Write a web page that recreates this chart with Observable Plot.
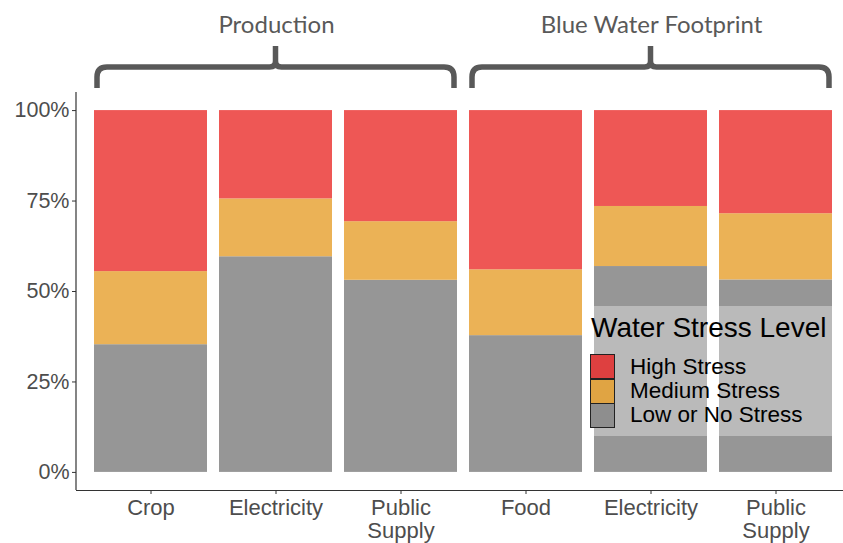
<!DOCTYPE html>
<html>
<head>
<meta charset="utf-8">
<script src="https://cdn.jsdelivr.net/npm/d3@7"></script>
<script src="https://cdn.jsdelivr.net/npm/@observablehq/plot@0.6"></script>
<style>
  html, body { margin: 0; padding: 0; background: white; }
  #wrap { position: relative; width: 843px; height: 543px; overflow: hidden; }
  #legend { position: absolute; left: 592px; top: 306px; width: 240px; height: 130px;
            background: rgba(255,255,255,0.35); font-family: "Liberation Sans", Arial, sans-serif; color: #000; }
  #legend .title { position: absolute; left: -1px; top: 8px; font-size: 28px; line-height: 28px; white-space: nowrap; }
  #legend .sw { position: absolute; left: -2px; width: 23px; height: 23px; border: 1px solid #222; }
  #legend .lab { position: absolute; left: 38px; font-size: 22.5px; line-height: 22px; white-space: nowrap; }
</style>
</head>
<body>
<div id="wrap"></div>
<script>
// ---- data ----
const groups = ["Production", "Production", "Production", "Blue Water Footprint", "Blue Water Footprint", "Blue Water Footprint"];
const categories = ["Crop", "Electricity", "Public Supply", "Food", "Electricity", "Public Supply"];
const lowStress = [35.3, 59.6, 53.1, 37.8, 56.9, 53.2];
const mediumStress = [20.2, 16.0, 16.2, 18.2, 16.6, 18.3];
const highStress = [44.5, 24.4, 30.7, 44.0, 26.5, 28.5];
const levels = ["High Stress", "Medium Stress", "Low or No Stress"];
const barColors = ["#EE5755", "#EBB256", "#969696"];
const swatchColors = ["#DE4040", "#E0A443", "#8E8E8E"];
const yTicks = [0, 25, 50, 75, 100];
const groupNames = ["Production", "Blue Water Footprint"];

const FONT = "'Liberation Sans', Arial, sans-serif";

// ---- build table ----
const keys = categories.map((c, i) => `${groups[i]}|${c}`);
const rows = [];
keys.forEach((k, i) => {
  rows.push({key: k, level: "Low or No Stress", value: lowStress[i]});
  rows.push({key: k, level: "Medium Stress", value: mediumStress[i]});
  rows.push({key: k, level: "High Stress", value: highStress[i]});
});
const brackets = groupNames.map(g => {
  const ks = keys.filter(k => k.startsWith(g + "|"));
  return {name: g, first: ks[0], last: ks[ks.length - 1]};
});

// custom mark: axis line on the left + group brackets above
function decorations(index, scales, values, dimensions) {
  const {x} = scales;
  const g = d3.create("svg:g");
  g.append("line")
    .attr("x1", dimensions.marginLeft).attr("x2", dimensions.marginLeft)
    .attr("y1", dimensions.marginTop).attr("y2", dimensions.height - dimensions.marginBottom)
    .attr("stroke", "#333").attr("stroke-width", 1.2);
  const bw = x.bandwidth();
  for (const b of brackets) {
    const x0 = x(b.first) + 3;
    const x1 = x(b.last) + bw - 3;
    const cx = (x0 + x1) / 2;
    const yh = 67, yEnd = 88, yTip = 46, r = 10;
    const d = `M${x0},${yEnd} V${yh + r} Q${x0},${yh} ${x0 + r},${yh} H${cx - 6} Q${cx},${yh} ${cx},${yh - 6} V${yTip}` +
              ` M${cx},${yh - 6} Q${cx},${yh} ${cx + 6},${yh} H${x1 - r} Q${x1},${yh} ${x1},${yh + r} V${yEnd}`;
    g.append("path").attr("d", d).attr("fill", "none").attr("stroke", "#595959").attr("stroke-width", 5.5);
    g.append("text").attr("x", cx + 1).attr("y", 33).attr("text-anchor", "middle")
      .attr("font-family", "Lato, 'Open Sans', sans-serif").attr("font-size", 24).attr("fill", "#595959")
      .text(b.name);
  }
  return g.node();
}

const chart = Plot.plot({
  width: 843,
  height: 543,
  marginLeft: 76,
  marginRight: 0,
  marginTop: 92,
  marginBottom: 53,
  style: {fontFamily: FONT, background: "white"},
  x: {domain: keys, range: [76, 850], paddingInner: 0.1, paddingOuter: 0.144, label: null},
  y: {domain: [-5, 105], label: null},
  color: {domain: levels, range: barColors},
  marks: [
    Plot.barY(rows, Plot.stackY({x: "key", y: "value", fill: "level", order: null})),
    Plot.ruleY([-5], {stroke: "#333", strokeWidth: 1.2}),
    Plot.axisY({ticks: yTicks, tickFormat: d => d + "%", tickSize: 4, tickPadding: 3, fontSize: 21.5,
                fontFamily: FONT, color: "#4D4D4D", stroke: "#333", label: null}),
    Plot.axisX({tickFormat: k => k.split("|")[1].replace(" ", "\n"), tickSize: 4, tickPadding: 4,
                fontSize: 22, fontFamily: FONT, lineHeight: 1.06, color: "#4D4D4D", stroke: "#333", label: null}),
    decorations
  ]
});

const wrap = document.getElementById("wrap");
wrap.appendChild(chart);

// legend overlay
const leg = document.createElement("div");
leg.id = "legend";
const t = document.createElement("div");
t.className = "title";
t.textContent = "Water Stress Level";
leg.appendChild(t);
levels.forEach((lv, i) => {
  const s = document.createElement("div");
  s.className = "sw";
  s.style.top = (48 + i * 24.5) + "px";
  s.style.background = swatchColors[i];
  leg.appendChild(s);
  const l = document.createElement("div");
  l.className = "lab";
  l.style.top = (50 + i * 24) + "px";
  l.textContent = lv;
  leg.appendChild(l);
});
wrap.appendChild(leg);
</script>
</body>
</html>
